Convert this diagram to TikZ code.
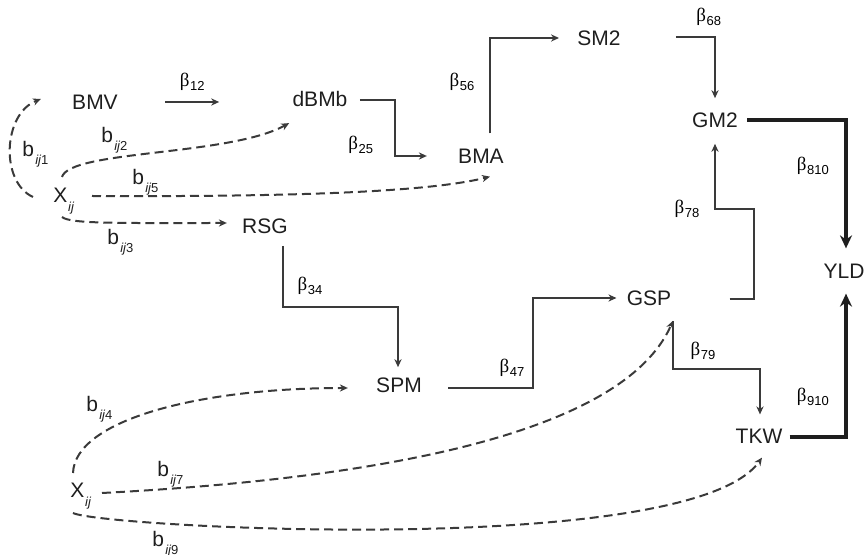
\documentclass[tikz,border=0pt]{standalone}
\usepackage{fontspec}
\setmainfont{Liberation Sans}
\newfontfamily\betafont{Liberation Serif}
\usepackage{tikz}
\usetikzlibrary{arrows.meta,positioning,calc}
\definecolor{inkline}{HTML}{3A3A3A}
\definecolor{inktext}{HTML}{1E1E1E}
\newcommand{\lsub}[2]{\raisebox{-#1}{\fontsize{6.5}{7}\selectfont #2}}
\newcommand{\coef}[1]{{\betafont\fontsize{9.5}{10}\selectfont β}\kern0.3pt\lsub{2pt}{#1}}
\newcommand{\bcoef}[1]{b\kern0.6pt\lsub{4pt}{\itshape ij\upshape #1}}
\newcommand{\xij}{X\kern0.4pt\lsub{4.5pt}{\itshape ij}}

\begin{document}
\begin{tikzpicture}[
  x=0.5pt, y=-0.5pt,
  vnode/.style={font=\fontsize{10.5}{12}\selectfont,text=inktext,inner sep=0pt},
  lbl/.style={font=\fontsize{10.5}{12}\selectfont,text=inktext,inner sep=0pt},
  arr/.style={draw=inkline,line width=1pt,-{Stealth[length=4pt,width=3.6pt]}},
  fatarr/.style={draw=inktext,line width=2.4pt,-{Stealth[length=6.5pt,width=6pt]}},
  dasharr/.style={draw=inkline,line width=1pt,dash pattern=on 4.5pt off 2.5pt,
                  -{Stealth[length=4pt,width=3.6pt]}},
]
\useasboundingbox (0,0) rectangle (864,555);

% traits
\node[vnode] (bmv)  at (95,102)  {BMV};
\node[vnode] (dbmb) at (320,99)  {dBMb};
\node[vnode] (bma)  at (481,156) {BMA};
\node[vnode] (sm2)  at (599,38)  {SM2};
\node[vnode] (gm2)  at (715,120) {GM2};
\node[vnode] (yld)  at (844,271) {YLD};
\node[vnode] (rsg)  at (265,226) {RSG};
\node[vnode] (spm)  at (399,385) {SPM};
\node[vnode] (gsp)  at (649,298) {GSP};
\node[vnode] (tkw)  at (759,436) {TKW};
\node[vnode,anchor=base west] (x1) at (53,203) {\xij};
\node[vnode,anchor=base west] (x2) at (70,498) {\xij};

% path coefficients
\draw[arr] ($(bmv.east)+(47,0)$) -- ($(dbmb.west |- bmv.east)+(-73,0)$)
  node[midway,above=2pt] (l12) {\coef{12}};
\draw[arr] ($(dbmb.east)+(12,1)$) -- ++(35,0) |- ($(bma.west)+(-31,0)$)
  node[pos=0.4,left=7pt] (l25) {\coef{25}};
\draw[arr] ($(bma.north)+(9,-15)$) |- ($(sm2.west)+(-18,0)$)
  node[pos=0.27,left=4pt] (l56) {\coef{56}};
\draw[arr] ($(sm2.east)+(55,-1)$) -| ($(gm2.north)+(0,-14)$)
  node[pos=0.42,above=2pt] (l68) {\coef{68}};
\draw[fatarr] ($(gm2.east)+(9,0)$) -| ($(yld.north)+(2,-15)$)
  node[pos=0.68,left=4pt] (l810) {\coef{810}};
\draw[arr] ($(rsg.south)+(18,12)$) -- ++(0,61)
  node[pos=0.65,right=3.5pt] (l34) {\coef{34}}
  -| ($(spm.north)+(-1,-10)$);
\draw[arr] ($(spm.east)+(26,3)$) -- ++(85,0)
  node[pos=0.75,above=2pt] (l47) {\coef{47}}
  |- ($(gsp.west)+(-10,0)$);
\draw[arr] ($(gsp.east)+(58,1)$) -- ++(24,0) -- ++(0,-90) -| ($(gm2.south)+(0,16)$)
  node[pos=0.5,left=4pt] (l78) {\coef{78}};
\draw[arr] ($(gsp.south)+(24,15)$) -- ++(0,48)
  node[pos=0.62,right=5pt] (l79) {\coef{79}}
  -| ($(tkw.north)+(1,-14)$);
\draw[fatarr] ($(tkw.east)+(7,1)$) -| ($(yld.south)+(2,15)$)
  node[pos=0.64,left=4pt] (l910) {\coef{910}};

% direct effects of X
\draw[dasharr] ($(x1.base west)+(-20,-6)$) .. controls +(-33,-15) and +(-38,15) .. ($(bmv.west)+(-31,-3)$);
\draw[dasharr] ($(x1.base west)+(9,-26)$) .. controls +(8,-27) and +(-60,33) .. ($(dbmb.south west)+(-3,16)$);
\draw[dasharr] ($(x1.base west)+(39,-7)$) .. controls +(208,1) and +(-60,15) .. ($(bma.south)+(9,13)$);
\draw[dasharr] ($(x1.base west)+(9,14)$) .. controls +(8,7) and +(-108,0) .. ($(rsg.west)+(-15,-3)$);
\draw[dasharr] ($(x2.base west)+(3,-25)$) .. controls +(2,-53) and +(-149,0) .. ($(spm.west)+(-28,3)$);
\draw[dasharr] ($(x2.base west)+(32,-5)$) .. controls +(248,-13) and +(-53,120) .. ($(gsp.south)+(24,15)$);
\draw[dasharr] ($(x2.base west)+(3,15)$) .. controls +(27,14) and +(-72,102) .. ($(tkw.south)+(3,14)$);

\node[lbl,anchor=base west] (b1) at (22,157) {\bcoef{1}};
\node[lbl,anchor=base west] (b2) at (101,143) {\bcoef{2}};
\node[lbl,anchor=base west] (b5) at (132,185) {\bcoef{5}};
\node[lbl,anchor=base west] (b3) at (107,245) {\bcoef{3}};
\node[lbl,anchor=base west] (b4) at (86,412) {\bcoef{4}};
\node[lbl,anchor=base west] (b7) at (157,477) {\bcoef{7}};
\node[lbl,anchor=base west] (b9) at (152,547) {\bcoef{9}};
\end{tikzpicture}
\end{document}
